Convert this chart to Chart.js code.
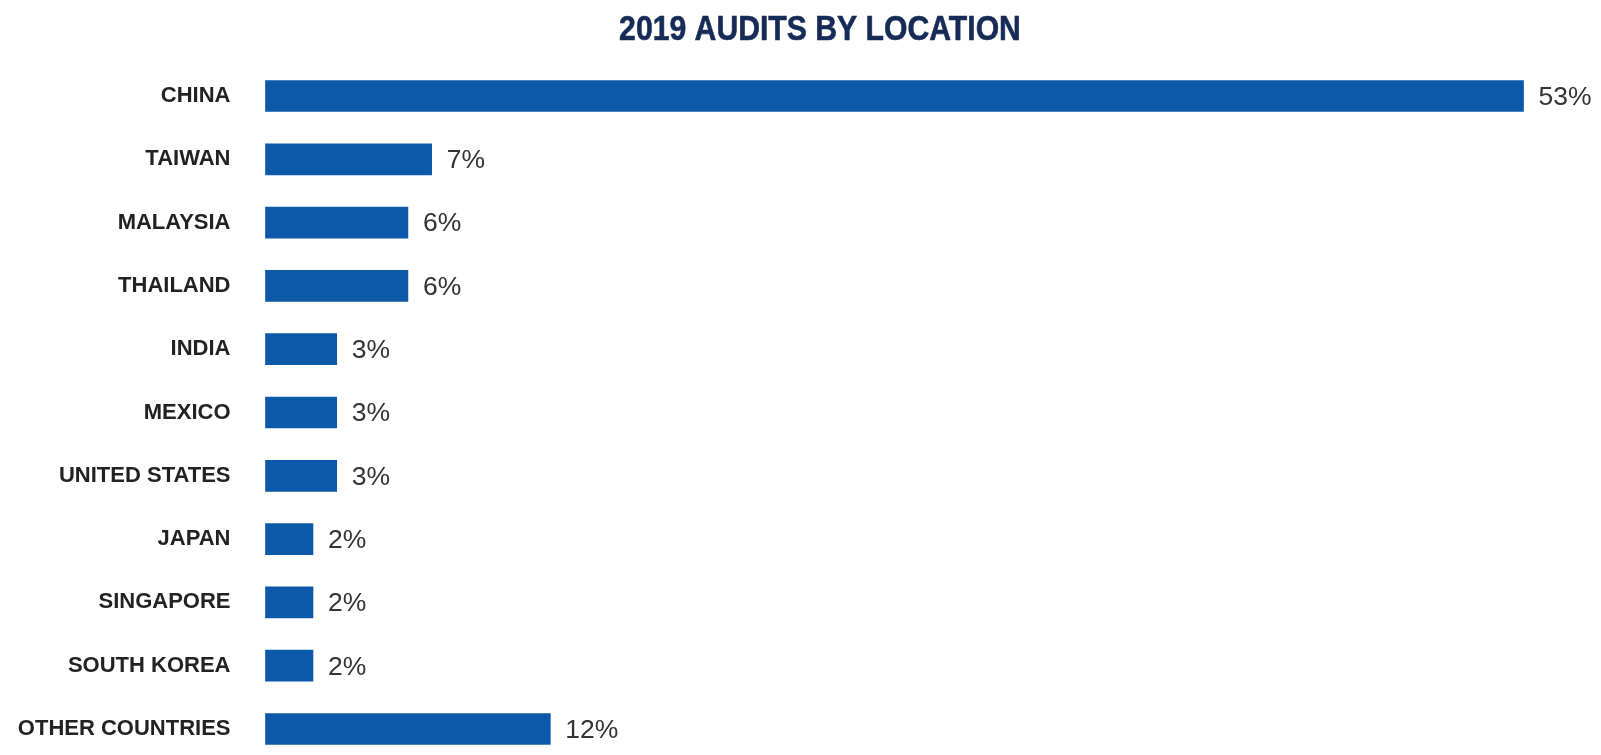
<!DOCTYPE html>
<html>
<head>
<meta charset="utf-8">
<script src="https://cdn.jsdelivr.net/npm/chart.js@4/dist/chart.umd.min.js"></script>
<style>
  html, body { margin: 0; padding: 0; background: #ffffff; }
  #wrap { width: 1601px; height: 755px; position: relative; }
</style>
</head>
<body>
<div id="wrap"><canvas id="c" width="1601" height="755"></canvas></div>
<script>
const titleText = '2019 AUDITS BY LOCATION';
const categories = ['CHINA', 'TAIWAN', 'MALAYSIA', 'THAILAND', 'INDIA', 'MEXICO', 'UNITED STATES', 'JAPAN', 'SINGAPORE', 'SOUTH KOREA', 'OTHER COUNTRIES'];
const shares = [53, 7, 6, 6, 3, 3, 3, 2, 2, 2, 12];
const valueSuffix = '%';

const titlePlugin = {
  id: 'condensedTitle',
  afterDraw(chart) {
    const ctx = chart.ctx;
    ctx.save();
    ctx.font = 'bold 35px "Liberation Sans", Arial, sans-serif';
    ctx.fillStyle = '#172b57';
    ctx.strokeStyle = '#172b57';
    ctx.lineWidth = 0.6;
    ctx.textAlign = 'center';
    ctx.textBaseline = 'alphabetic';
    ctx.translate(820, 40);
    ctx.scale(0.862, 1);
    ctx.fillText(titleText, 0, 0);
    ctx.strokeText(titleText, 0, 0);
    ctx.restore();
  }
};

const valueLabels = {
  id: 'valueLabels',
  afterDatasetsDraw(chart) {
    const ctx = chart.ctx;
    const meta = chart.getDatasetMeta(0);
    ctx.save();
    ctx.font = '26.5px "Liberation Sans", Arial, sans-serif';
    ctx.fillStyle = '#333333';
    ctx.textAlign = 'left';
    ctx.textBaseline = 'middle';
    meta.data.forEach((bar, i) => {
      ctx.fillText(shares[i] + valueSuffix, bar.x + 15, bar.y + 1.5);
    });
    ctx.restore();
  }
};

new Chart(document.getElementById('c'), {
  type: 'bar',
  data: {
    labels: categories,
    datasets: [{
      data: shares,
      backgroundColor: '#0d59a9',
      borderWidth: 0,
      barThickness: 31,
      clip: false
    }]
  },
  options: {
    indexAxis: 'y',
    responsive: false,
    animation: false,
    layout: { padding: { top: 96, bottom: 26, left: 0, right: 30 } },
    plugins: {
      legend: { display: false },
      title: { display: false },
      tooltip: { enabled: false }
    },
    scales: {
      x: {
        display: false,
        min: 0,
        max: 55
      },
      y: {
        offset: false,
        grid: { display: false, drawTicks: false },
        border: { display: false },
        afterFit(scale) {
          scale.width = 265.5;
          scale.paddingTop = 0;
          scale.paddingBottom = 0;
        },
        ticks: {
          padding: 35,
          color: '#222222',
          font: { family: '"Liberation Sans", Arial, sans-serif', size: 22, weight: 'bold' }
        }
      }
    }
  },
  plugins: [titlePlugin, valueLabels]
});
</script>
</body>
</html>
